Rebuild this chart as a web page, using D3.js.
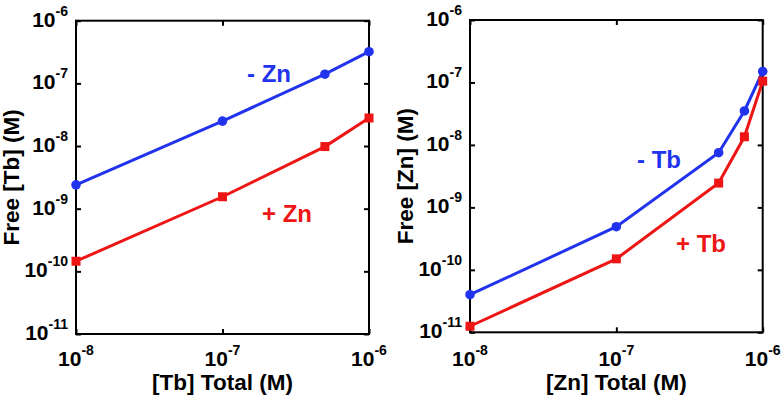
<!DOCTYPE html>
<html>
<head>
<meta charset="utf-8">
<script src="https://cdn.jsdelivr.net/npm/d3@7"></script>
<style>
  body { margin: 0; background: #fff; }
  svg text { font-family: "Liberation Sans", Arial, sans-serif; font-weight: bold; }
</style>
</head>
<body>
<div id="chart"></div>
<script>
// data
const tbTotal = [1e-8, 1e-7, 5e-7, 1e-6];
const freeTbNoZn = [2.4e-9, 2.5e-8, 1.4e-7, 3.2e-7];
const freeTbWithZn = [1.45e-10, 1.55e-9, 9.8e-9, 2.8e-8];

const znTotal = [1e-8, 1e-7, 5e-7, 7.5e-7, 1e-6];
const freeZnNoTb = [4e-11, 4.9e-10, 7.5e-9, 3.5e-8, 1.5e-7];
const freeZnWithTb = [1.25e-11, 1.5e-10, 2.45e-9, 1.35e-8, 1.05e-7];

const xTicks = [1e-8, 1e-7, 1e-6];
const yTicks = [1e-11, 1e-10, 1e-9, 1e-8, 1e-7, 1e-6];

const blue = "#2233ee";
const red = "#ee1515";

const width = 784;
const height = 396;

const svg = d3.select("#chart")
    .append("svg")
    .attr("width", width)
    .attr("height", height);

const panels = [
    {
        left: 76, right: 369, top: 20.7, bottom: 334,
        xs: tbTotal, a: freeTbNoZn, b: freeTbWithZn,
        xTitle: "[Tb] Total (M)", yTitle: "Free [Tb] (M)",
        aLabel: "- Zn", aPos: [247, 82], bLabel: "+ Zn", bPos: [262, 222]
    },
    {
        left: 470, right: 762.7, top: 20, bottom: 332.3,
        xs: znTotal, a: freeZnNoTb, b: freeZnWithTb,
        xTitle: "[Zn] Total (M)", yTitle: "Free [Zn] (M)",
        aLabel: "- Tb", aPos: [637, 168], bLabel: "+ Tb", bPos: [676, 252]
    }
];

const expOf = v => Math.round(Math.log10(v));

panels.forEach(p => {
    const x = d3.scaleLog().domain([1e-8, 1e-6]).range([p.left, p.right]);
    const y = d3.scaleLog().domain([1e-11, 1e-6]).range([p.bottom, p.top]);

    const g = svg.append("g");

    // inward ticks on all four sides
    const axes = [
        [d3.axisBottom(x).tickValues(xTicks), `translate(0,${p.bottom})`],
        [d3.axisTop(x).tickValues(xTicks), `translate(0,${p.top})`],
        [d3.axisLeft(y).tickValues(yTicks), `translate(${p.left},0)`],
        [d3.axisRight(y).tickValues(yTicks), `translate(${p.right},0)`]
    ];
    axes.forEach(([ax, tr]) => {
        const a = g.append("g")
            .attr("transform", tr)
            .call(ax.tickSizeInner(-5).tickSizeOuter(0).tickFormat(""));
        a.select(".domain").remove();
        a.selectAll("line").attr("stroke", "#000").attr("stroke-width", 2);
    });

    g.append("rect")
        .attr("x", p.left)
        .attr("y", p.top)
        .attr("width", p.right - p.left)
        .attr("height", p.bottom - p.top)
        .attr("fill", "none")
        .attr("stroke", "#000")
        .attr("stroke-width", 2);

    // y tick labels
    yTicks.forEach(v => {
        const t = g.append("text")
            .attr("x", p.left - 8)
            .attr("y", y(v) + 6)
            .attr("text-anchor", "end")
            .attr("font-size", 21);
        t.append("tspan").text("10");
        t.append("tspan").attr("font-size", 14).attr("dy", -11).text(expOf(v));
    });

    // x tick labels
    xTicks.forEach(v => {
        const t = g.append("text")
            .attr("x", x(v))
            .attr("y", 366)
            .attr("text-anchor", "middle")
            .attr("font-size", 21);
        t.append("tspan").text("10");
        t.append("tspan").attr("font-size", 14).attr("dy", -11).text(expOf(v));
    });

    g.append("text")
        .attr("x", (p.left + p.right) / 2)
        .attr("y", 390)
        .attr("text-anchor", "middle")
        .attr("font-size", 22.5)
        .text(p.xTitle);

    g.append("text")
        .attr("transform", `translate(${p.left - 57},${(p.top + p.bottom) / 2}) rotate(-90)`)
        .attr("text-anchor", "middle")
        .attr("font-size", 22.5)
        .text(p.yTitle);

    const line = d3.line()
        .x(d => x(d[0]))
        .y(d => y(d[1]));

    const seriesA = p.xs.map((v, i) => [v, p.a[i]]);
    const seriesB = p.xs.map((v, i) => [v, p.b[i]]);

    g.append("path")
        .datum(seriesA)
        .attr("d", line)
        .attr("fill", "none")
        .attr("stroke", blue)
        .attr("stroke-width", 3);

    g.append("path")
        .datum(seriesB)
        .attr("d", line)
        .attr("fill", "none")
        .attr("stroke", red)
        .attr("stroke-width", 3);

    g.selectAll(".dot")
        .data(seriesA)
        .enter()
        .append("circle")
        .attr("cx", d => x(d[0]))
        .attr("cy", d => y(d[1]))
        .attr("r", 4.8)
        .attr("fill", blue);

    g.selectAll(".sq")
        .data(seriesB)
        .enter()
        .append("rect")
        .attr("x", d => x(d[0]) - 4.5)
        .attr("y", d => y(d[1]) - 4.5)
        .attr("width", 9)
        .attr("height", 9)
        .attr("fill", red);

    g.append("text")
        .attr("x", p.aPos[0])
        .attr("y", p.aPos[1])
        .attr("font-size", 24)
        .attr("fill", blue)
        .text(p.aLabel);

    g.append("text")
        .attr("x", p.bPos[0])
        .attr("y", p.bPos[1])
        .attr("font-size", 24)
        .attr("fill", red)
        .text(p.bLabel);
});
</script>
</body>
</html>
